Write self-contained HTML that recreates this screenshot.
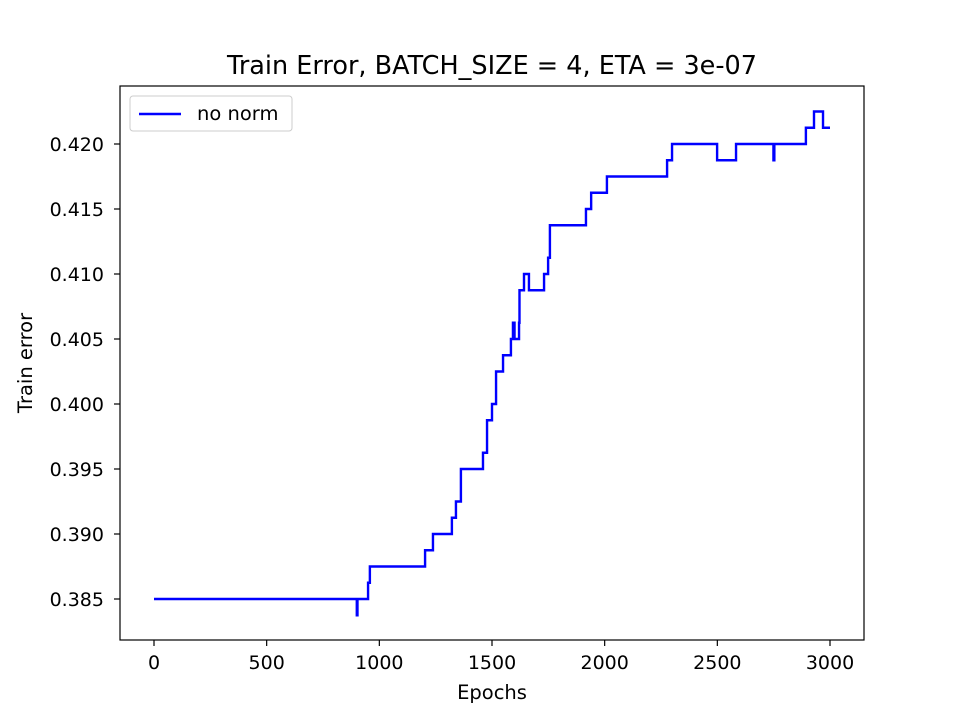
<!DOCTYPE html>
<html><head><meta charset="utf-8"><style>
body{margin:0;background:#fff;}
svg text{font-family:"DejaVu Sans","Liberation Sans",sans-serif;fill:#000;}
</style></head><body>
<svg id="chart" width="960" height="720" viewBox="0 0 960 720" xmlns="http://www.w3.org/2000/svg">
<rect width="960" height="720" fill="#fff"/>
<text x="492" y="74" font-size="25.5" text-anchor="middle">Train Error, BATCH_SIZE = 4, ETA = 3e-07</text>
<g id="ticks"></g>
<path id="series" fill="none" stroke="#0000ff" stroke-width="2.4" stroke-linejoin="miter"/>
<rect x="120" y="86" width="744" height="554" fill="none" stroke="#000" stroke-width="1.2"/>
<text x="492" y="699" font-size="19.5" text-anchor="middle">Epochs</text>
<text x="32" y="363" font-size="19.5" text-anchor="middle" transform="rotate(-90 32 363)">Train error</text>
<g>
<rect x="130" y="96" width="162" height="35" rx="3" fill="#fff" stroke="#ccc"/>
<line x1="139" y1="114" x2="181" y2="114" stroke="#0000ff" stroke-width="2.4"/>
<text x="197" y="120" font-size="19.5">no norm</text>
</g>
</svg>
<script>
const epochs = [0, 900, 903, 908, 950, 958, 1203, 1238, 1322, 1340, 1362, 1460, 1478, 1500, 1518, 1549, 1584, 1593, 1600, 1620, 1622, 1642, 1664, 1731, 1749, 1757, 1917, 1940, 2010, 2277, 2299, 2499, 2583, 2749, 2753, 2893, 2929, 2969, 3000];
const values = [0.385, 0.38375, 0.385, 0.385, 0.38625, 0.3875, 0.38875, 0.39, 0.39125, 0.3925, 0.395, 0.39625, 0.39875, 0.4, 0.4025, 0.40375, 0.405, 0.40625, 0.405, 0.40625, 0.40875, 0.41, 0.40875, 0.41, 0.41125, 0.41375, 0.415, 0.41625, 0.4175, 0.41875, 0.42, 0.41875, 0.42, 0.41875, 0.42, 0.42125, 0.4225, 0.42125, 0.42125];
const xTicks = [0, 500, 1000, 1500, 2000, 2500, 3000];
const yTicks = [0.385, 0.390, 0.395, 0.400, 0.405, 0.410, 0.415, 0.420];

const xs = e => 154 + (e / 3000) * 676;
const ys = v => 599 - (v - 0.385) / 0.035 * 455;
const NS = "http://www.w3.org/2000/svg";
const tg = document.getElementById('ticks');
xTicks.forEach(t => {
  const l = document.createElementNS(NS, 'line');
  
  
  l.setAttribute('x1', xs(t)); l.setAttribute('x2', xs(t));
  l.setAttribute('y1', 640); l.setAttribute('y2', 646);
  l.setAttribute('stroke', '#000');
  l.setAttribute('stroke-width', '1.2');
  tg.appendChild(l);
  const tx = document.createElementNS(NS, 'text');
  
  
  tx.setAttribute('x', xs(t)); tx.setAttribute('y', 669);
  tx.setAttribute('font-size', '19'); tx.setAttribute('text-anchor', 'middle');
  tx.textContent = t;
  tg.appendChild(tx);
});
yTicks.forEach(t => {
  const l = document.createElementNS(NS, 'line');
  
  
  l.setAttribute('x1', 114); l.setAttribute('x2', 120);
  l.setAttribute('y1', ys(t)); l.setAttribute('y2', ys(t));
  l.setAttribute('stroke', '#000');
  l.setAttribute('stroke-width', '1.2');
  tg.appendChild(l);
  const tx = document.createElementNS(NS, 'text');
  
  
  tx.setAttribute('x', 104); tx.setAttribute('y', ys(t) + 7);
  tx.setAttribute('font-size', '19'); tx.setAttribute('text-anchor', 'end');
  tx.textContent = t.toFixed(3);
  tg.appendChild(tx);
});
let d = '';
for (let i = 0; i < epochs.length; i++) {
  if (i === 0) d += 'M' + xs(epochs[0]) + ' ' + ys(values[0]);
  else d += ' L' + xs(epochs[i]) + ' ' + ys(values[i - 1]) + ' L' + xs(epochs[i]) + ' ' + ys(values[i]);
}
document.getElementById('series').setAttribute('d', d);
</script>
</body></html>
